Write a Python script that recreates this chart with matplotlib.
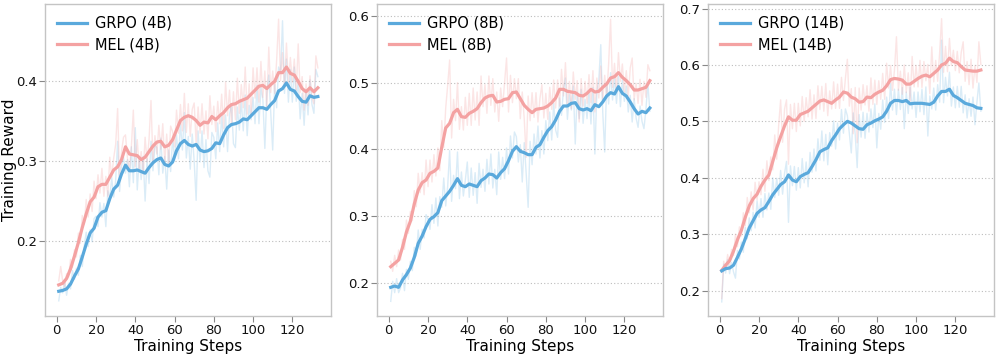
import numpy as np
import matplotlib
matplotlib.use("Agg")
import matplotlib.pyplot as plt

plt.rcParams['font.family'] = ['DejaVu Sans']

# ---------------- data ----------------
steps = list(range(1, 134))            # raw reward steps
smooth_steps = list(range(1, 134, 2))  # smoothed curve steps

panel_sizes = ["4B", "8B", "14B"]

grpo_4b_smooth = [0.137,0.138,0.140,0.146,0.156,0.165,0.180,0.196,0.210,0.216,0.230,0.236,0.238,0.253,0.265,0.270,0.284,
                  0.295,0.288,0.288,0.289,0.287,0.285,0.292,0.298,0.302,0.304,0.296,0.294,0.299,0.313,0.322,0.326,0.321,
                  0.319,0.321,0.314,0.312,0.313,0.316,0.323,0.322,0.333,0.342,0.346,0.347,0.349,0.353,0.352,0.357,0.362,
                  0.367,0.367,0.365,0.371,0.376,0.388,0.391,0.398,0.390,0.388,0.381,0.375,0.374,0.382,0.380,0.381]
mel_4b_smooth = [0.145,0.147,0.153,0.165,0.181,0.198,0.217,0.234,0.249,0.255,0.268,0.271,0.271,0.280,0.289,0.293,0.302,
                 0.318,0.309,0.308,0.307,0.302,0.305,0.312,0.319,0.324,0.325,0.318,0.320,0.327,0.339,0.351,0.355,0.357,
                 0.355,0.351,0.345,0.349,0.348,0.356,0.352,0.357,0.361,0.367,0.371,0.372,0.375,0.377,0.379,0.384,0.389,
                 0.394,0.395,0.391,0.396,0.400,0.411,0.411,0.418,0.410,0.408,0.400,0.391,0.387,0.392,0.387,0.392]
grpo_8b_smooth = [0.193,0.195,0.193,0.204,0.212,0.222,0.238,0.259,0.270,0.284,0.295,0.299,0.305,0.323,0.330,0.337,0.346,
                  0.356,0.346,0.344,0.348,0.346,0.344,0.353,0.357,0.363,0.362,0.357,0.365,0.371,0.383,0.397,0.404,0.397,
                  0.395,0.392,0.392,0.403,0.407,0.418,0.428,0.434,0.444,0.457,0.465,0.465,0.469,0.470,0.461,0.459,0.461,
                  0.458,0.467,0.464,0.471,0.480,0.485,0.483,0.494,0.484,0.480,0.471,0.461,0.453,0.457,0.455,0.462]
mel_8b_smooth = [0.224,0.229,0.234,0.253,0.276,0.292,0.318,0.339,0.350,0.354,0.364,0.367,0.372,0.403,0.432,0.439,0.455,
                 0.460,0.449,0.448,0.454,0.457,0.461,0.470,0.477,0.480,0.481,0.471,0.472,0.475,0.476,0.485,0.486,0.476,
                 0.466,0.460,0.455,0.460,0.461,0.462,0.465,0.470,0.477,0.490,0.490,0.487,0.486,0.485,0.481,0.480,0.484,
                 0.490,0.486,0.487,0.493,0.498,0.507,0.509,0.515,0.508,0.503,0.497,0.489,0.489,0.491,0.493,0.503]
grpo_14b_smooth = [0.235,0.239,0.240,0.245,0.259,0.274,0.292,0.311,0.324,0.337,0.343,0.347,0.358,0.370,0.379,0.388,0.393,
                   0.405,0.396,0.393,0.402,0.406,0.409,0.420,0.432,0.446,0.450,0.453,0.466,0.476,0.487,0.494,0.500,0.497,
                   0.492,0.487,0.486,0.494,0.497,0.501,0.504,0.508,0.518,0.532,0.537,0.537,0.535,0.537,0.531,0.532,0.532,
                   0.532,0.531,0.530,0.534,0.545,0.553,0.553,0.557,0.546,0.542,0.537,0.532,0.530,0.528,0.524,0.523]
mel_14b_smooth = [0.236,0.245,0.253,0.270,0.290,0.307,0.330,0.350,0.363,0.371,0.385,0.396,0.405,0.429,0.453,0.473,0.492,
                  0.508,0.502,0.502,0.512,0.515,0.518,0.524,0.530,0.536,0.538,0.535,0.532,0.538,0.543,0.552,0.550,0.543,
                  0.540,0.534,0.535,0.543,0.542,0.548,0.552,0.555,0.563,0.574,0.576,0.575,0.573,0.566,0.566,0.571,0.576,
                  0.580,0.582,0.579,0.585,0.591,0.600,0.603,0.612,0.606,0.604,0.597,0.591,0.590,0.589,0.589,0.591]

grpo_4b_raw = [0.125,0.142,0.135,0.149,0.132,0.147,0.140,0.163,0.152,0.166,
               0.157,0.182,0.168,0.194,0.211,0.193,0.214,0.199,0.228,0.231,
               0.218,0.248,0.230,0.247,0.218,0.263,0.255,0.279,0.255,0.276,
               0.325,0.262,0.294,0.305,0.285,0.302,0.268,0.318,0.273,0.342,
               0.264,0.303,0.277,0.306,0.250,0.303,0.272,0.325,0.288,0.320,
               0.317,0.283,0.329,0.285,0.306,0.265,0.314,0.287,0.329,0.301,
               0.333,0.303,0.347,0.314,0.361,0.304,0.331,0.290,0.334,0.300,
               0.251,0.338,0.299,0.338,0.292,0.327,0.288,0.280,0.336,0.330,
               0.303,0.348,0.312,0.358,0.318,0.358,0.312,0.359,0.371,0.322,
               0.317,0.368,0.339,0.376,0.338,0.383,0.332,0.370,0.352,0.380,
               0.347,0.395,0.347,0.392,0.377,0.316,0.385,0.408,0.361,0.314,
               0.396,0.367,0.418,0.410,0.476,0.385,0.428,0.374,0.415,0.374,
               0.418,0.375,0.401,0.353,0.385,0.345,0.389,0.358,0.402,0.371,0.360,0.415,0.406]
mel_4b_raw = [0.150,0.168,0.150,0.142,0.159,0.155,0.177,0.167,0.189,0.180,
              0.210,0.197,0.232,0.221,0.252,0.230,0.259,0.237,0.275,0.253,
              0.283,0.260,0.291,0.256,0.281,0.256,0.305,0.280,0.304,0.321,
              0.366,0.278,0.312,0.330,0.333,0.304,0.289,0.318,0.364,0.293,
              0.327,0.290,0.312,0.284,0.330,0.299,0.327,0.376,0.299,0.332,
              0.309,0.345,0.315,0.347,0.298,0.334,0.295,0.344,0.337,0.318,
              0.364,0.335,0.371,0.338,0.385,0.336,0.372,0.331,0.365,0.373,
              0.321,0.368,0.335,0.372,0.334,0.363,0.328,0.382,0.346,0.369,
              0.337,0.375,0.347,0.384,0.341,0.399,0.357,0.389,0.346,0.387,
              0.352,0.404,0.360,0.396,0.367,0.418,0.359,0.397,0.359,0.417,
              0.379,0.417,0.374,0.425,0.380,0.413,0.366,0.443,0.386,0.413,
              0.385,0.426,0.478,0.401,0.436,0.395,0.448,0.399,0.430,0.399,
              0.428,0.389,0.447,0.386,0.406,0.364,0.397,0.370,0.407,0.380,0.372,0.432,0.417]
grpo_8b_raw = [0.172,0.202,0.185,0.206,0.185,0.192,0.214,0.188,0.220,0.205,
               0.232,0.218,0.253,0.240,0.279,0.250,0.280,0.267,0.302,0.295,
               0.280,0.317,0.289,0.327,0.285,0.329,0.313,0.357,0.315,0.344,
               0.398,0.322,0.361,0.341,0.396,0.326,0.366,0.330,0.354,0.381,
               0.328,0.372,0.331,0.365,0.319,0.379,0.343,0.370,0.337,0.385,
               0.348,0.393,0.342,0.370,0.332,0.396,0.355,0.388,0.356,0.402,
               0.363,0.420,0.387,0.426,0.419,0.381,0.407,0.351,0.410,0.364,
               0.313,0.412,0.377,0.423,0.393,0.435,0.387,0.428,0.393,0.443,
               0.413,0.456,0.414,0.469,0.429,0.418,0.477,0.451,0.490,0.507,
               0.445,0.482,0.459,0.495,0.408,0.486,0.446,0.490,0.439,0.475,
               0.446,0.485,0.438,0.493,0.393,0.486,0.504,0.557,0.456,0.396,
               0.500,0.468,0.515,0.474,0.508,0.469,0.509,0.464,0.504,0.472,
               0.495,0.456,0.481,0.441,0.476,0.447,0.433,0.465,0.442,0.431,0.460,0.499,0.457]
mel_8b_raw = [0.232,0.217,0.241,0.224,0.249,0.234,0.265,0.250,0.294,0.274,
              0.307,0.293,0.338,0.314,0.364,0.335,0.365,0.332,0.384,0.344,
              0.384,0.351,0.392,0.360,0.402,0.368,0.443,0.403,0.462,0.496,
              0.534,0.417,0.475,0.443,0.500,0.430,0.464,0.429,0.478,0.436,
              0.484,0.436,0.492,0.444,0.486,0.436,0.510,0.464,0.497,0.454,
              0.510,0.466,0.506,0.456,0.486,0.442,0.492,0.464,0.500,0.537,
              0.456,0.511,0.470,0.506,0.476,0.506,0.446,0.486,0.446,0.388,
              0.480,0.443,0.485,0.448,0.485,0.441,0.476,0.497,0.447,0.484,
              0.445,0.493,0.460,0.504,0.462,0.504,0.465,0.520,0.480,0.530,
              0.467,0.502,0.461,0.516,0.475,0.503,0.441,0.506,0.465,0.502,
              0.469,0.512,0.470,0.518,0.456,0.507,0.477,0.525,0.473,0.511,
              0.478,0.528,0.595,0.493,0.529,0.487,0.545,0.502,0.528,0.486,
              0.518,0.480,0.522,0.537,0.474,0.499,0.469,0.505,0.466,0.502,0.478,0.527,0.518]
grpo_14b_raw = [0.180,0.247,0.231,0.255,0.230,0.250,0.233,0.222,0.271,0.256,
                0.286,0.268,0.312,0.292,0.329,0.306,0.339,0.311,0.359,0.330,
                0.363,0.330,0.372,0.343,0.373,0.344,0.400,0.365,0.399,0.369,
                0.413,0.371,0.408,0.429,0.321,0.421,0.386,0.420,0.378,0.418,
                0.382,0.434,0.391,0.428,0.384,0.445,0.410,0.451,0.412,0.469,
                0.431,0.483,0.430,0.477,0.423,0.480,0.456,0.501,0.451,0.497,
                0.467,0.521,0.479,0.522,0.510,0.479,0.444,0.515,0.477,0.418,
                0.512,0.472,0.516,0.470,0.514,0.481,0.522,0.489,0.531,0.453,
                0.514,0.486,0.538,0.498,0.543,0.505,0.567,0.520,0.557,0.512,
                0.557,0.521,0.560,0.487,0.552,0.514,0.561,0.522,0.552,0.507,
                0.552,0.517,0.557,0.512,0.561,0.474,0.545,0.522,0.559,0.520,
                0.565,0.534,0.644,0.533,0.578,0.545,0.587,0.527,0.561,0.524,
                0.562,0.525,0.562,0.515,0.547,0.506,0.540,0.509,0.543,0.494,0.534,0.568,0.518]
mel_14b_raw = [0.186,0.252,0.237,0.264,0.243,0.273,0.262,0.300,0.278,0.313,
               0.297,0.338,0.315,0.365,0.338,0.375,0.343,0.392,0.361,0.393,
               0.370,0.415,0.376,0.430,0.395,0.437,0.414,0.476,0.433,0.493,
               0.538,0.463,0.522,0.538,0.424,0.530,0.487,0.532,0.482,0.532,
               0.492,0.544,0.500,0.542,0.508,0.556,0.504,0.547,0.505,0.563,
               0.521,0.562,0.518,0.567,0.510,0.554,0.522,0.570,0.523,0.566,
               0.523,0.578,0.537,0.576,0.610,0.527,0.558,0.478,0.560,0.462,
               0.559,0.520,0.565,0.529,0.563,0.518,0.577,0.530,0.573,0.530,
               0.572,0.539,0.585,0.539,0.603,0.559,0.599,0.555,0.591,0.650,
               0.555,0.589,0.548,0.600,0.551,0.586,0.536,0.615,0.561,0.599,
               0.561,0.608,0.560,0.606,0.572,0.601,0.549,0.632,0.570,0.608,
               0.571,0.621,0.682,0.587,0.633,0.588,0.647,0.599,0.626,0.590,
               0.624,0.586,0.622,0.641,0.571,0.606,0.565,0.610,0.559,0.599,0.569,0.641,0.601]

y_ticks = [[0.2, 0.3, 0.4], [0.2, 0.3, 0.4, 0.5, 0.6], [0.2, 0.3, 0.4, 0.5, 0.6, 0.7]]
y_limits = [(0.106, 0.497), (0.150, 0.618), (0.155, 0.708)]
x_ticks = [0, 20, 40, 60, 80, 100, 120]

panels = [
    (grpo_4b_raw, grpo_4b_smooth, mel_4b_raw, mel_4b_smooth),
    (grpo_8b_raw, grpo_8b_smooth, mel_8b_raw, mel_8b_smooth),
    (grpo_14b_raw, grpo_14b_smooth, mel_14b_raw, mel_14b_smooth),
]

# ---------------- style ----------------
BLUE = "#5aa9dc"
PINK = "#f4a2a2"
SPINE = "#c4c4c4"

fig = plt.figure(figsize=(9.97, 3.57), dpi=100)
lefts = [45 / 997, 377 / 997, 708 / 997]
width = 286 / 997
bottom = 1 - 316 / 357
height = 312 / 357

for i, (g_raw, g_sm, m_raw, m_sm) in enumerate(panels):
    ax = fig.add_axes([lefts[i], bottom, width, height])
    ax.plot(steps, g_raw, color=BLUE, lw=1.0, alpha=0.22, zorder=2)
    ax.plot(steps, m_raw, color=PINK, lw=1.0, alpha=0.28, zorder=2)
    ax.plot(smooth_steps, g_sm, color=BLUE, lw=2.3, zorder=4,
            label=f"GRPO ({panel_sizes[i]})", solid_joinstyle='round')
    ax.plot(smooth_steps, m_sm, color=PINK, lw=2.3, zorder=3,
            label=f"MEL ({panel_sizes[i]})", solid_joinstyle='round')

    ax.set_xlim(-6, 139.7)
    ax.set_ylim(*y_limits[i])
    ax.set_xticks(x_ticks)
    ax.set_yticks(y_ticks[i])
    ax.set_yticklabels([f"{v:.1f}" for v in y_ticks[i]])
    ax.grid(axis='y', linestyle=(0, (1, 2)), color="#bdbdbd", lw=0.8, zorder=0)
    ax.set_axisbelow(True)
    for sp in ax.spines.values():
        sp.set_color(SPINE)
        sp.set_linewidth(1.0)
    ax.tick_params(axis='both', direction='out', length=4, width=0.8, color="#888888",
                   labelsize=9.5, labelcolor="#111111", pad=2)
    ax.set_xlabel("Training Steps", fontsize=11, labelpad=1)
    if i == 0:
        ax.set_ylabel("Training Reward", fontsize=11)
        ax.yaxis.set_label_coords(-0.098, 0.5)
    ax.legend(loc="upper left", frameon=False, fontsize=10.5, handlelength=2.1,
              handletextpad=0.5, labelspacing=0.45, borderaxespad=0.4,
              bbox_to_anchor=(0.0, 1.0))

fig.savefig("out.png", dpi=100)
